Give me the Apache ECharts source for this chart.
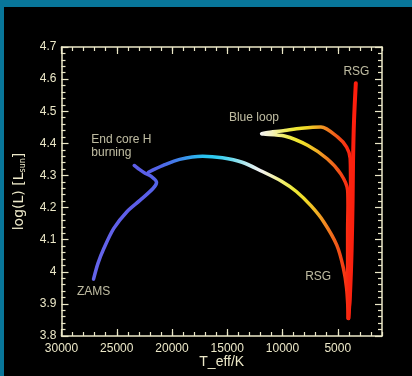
<!DOCTYPE html>
<html>
<head>
<meta charset="utf-8">
<script src="https://cdn.jsdelivr.net/npm/echarts@6/dist/echarts.min.js"></script>
<style>
  html, body { margin: 0; padding: 0; background: #08769a; width: 412px; height: 376px; overflow: hidden; }
  #chart { position: absolute; left: 4px; top: 7px; width: 408px; height: 369px; background: #000; }
</style>
</head>
<body>
<div id="chart"></div>
<script>
// main sequence + hook (T_eff in K, log L)
var msT = [27100, 26700, 26160, 25270, 24080, 22880, 21700, 21400, 21875, 22440, 23040, 23420];
var msL = [3.977, 4.026, 4.073, 4.135, 4.187, 4.223, 4.260, 4.279, 4.297, 4.307, 4.321, 4.331];
// crossing of the gap down to the base of the red branch
var gapT = [22140, 20800, 19310, 17230, 15450, 13660, 11875, 10090, 8750, 7410, 6280, 5090, 4490, 4200, 4040];
var gapL = [4.310, 4.331, 4.350, 4.360, 4.355, 4.341, 4.313, 4.282, 4.250, 4.205, 4.156, 4.083, 4.011, 3.948, 3.855];
// blue loop
var loopT = [4040, 4110, 4110, 4080, 4110, 4730, 5960, 7740, 9820, 11900, 9800, 8300, 6520, 5000, 4200, 3880, 3840, 3790, 3840, 3930, 4040];
var loopL = [3.855, 4.004, 4.129, 4.207, 4.254, 4.305, 4.352, 4.394, 4.423, 4.430, 4.440, 4.447, 4.451, 4.419, 4.388, 4.353, 4.275, 4.160, 4.035, 3.911, 3.855];
// red supergiant ascent
var rsgT = [4040, 3880, 3750, 3660, 3620, 3530, 3370];
var rsgL = [3.855, 3.942, 4.067, 4.222, 4.347, 4.472, 4.587];

var labelText = ['ZAMS', 'End core H\nburning', 'Blue loop', 'RSG', 'RSG'];
var labelT = [28600, 27300, 14850, 4490, 7950];
var labelL = [3.939, 4.390, 4.480, 4.624, 3.985];

// x ticks every 1000 K, labelled every 5000 K
var xMajorTicks = [30000, 25000, 20000, 15000, 10000, 5000];
var xTicks = [];
for (var t = 30000; t >= 1000; t -= 1000) xTicks.push(String(t));

// temperature colours, 3000 K .. 28000 K in 1000 K steps
var tempColors = ['#ff180a', '#fa2410', '#f05418', '#f08020', '#f0b424', '#f0dc28', '#ece838', '#f0ee70',
  '#f4f2c0', '#f2f2f2', '#c8ecf0', '#90e0ec', '#54d4ee', '#30ccf0', '#28c4f0', '#30acee', '#3a8eea',
  '#4676e8', '#5066e8', '#5860e8', '#5c5ee8', '#5e5ee8', '#6060e8', '#6262ea', '#6464ea', '#6464ea'];

function pairs(a, b) {
  return a.map(function (v, i) { return [v, b[i]]; });
}
function isMajor(i, v) {
  return xMajorTicks.indexOf(+v) >= 0;
}

var fg = '#ece8c8';
var font = 'Liberation Sans';

function tickAxis(pos, len, major, showLine) {
  return {
    type: 'category', position: pos, data: xTicks, boundaryGap: false,
    axisLine: { show: showLine, lineStyle: { color: fg, width: 1.5 } },
    axisTick: { show: true, inside: true, length: len, interval: major ? isMajor : 0, lineStyle: { color: fg, width: 1.2 } },
    axisLabel: { show: major && pos === 'bottom', interval: isMajor, color: fg, fontSize: 12, fontFamily: font, margin: 7 },
    splitLine: { show: false }
  };
}

function yAxisCfg(pos, labels) {
  var ax = {
    type: 'value', position: pos, min: 3.8, max: 4.7, interval: 0.1,
    axisLine: { show: true, lineStyle: { color: fg, width: 1.5 } },
    axisTick: { show: true, inside: true, length: 7, lineStyle: { color: fg, width: 1.2 } },
    minorTick: { show: true, splitNumber: 5, length: 4, lineStyle: { color: fg, width: 1.2 } },
    axisLabel: { show: labels, color: fg, fontSize: 12, fontFamily: font, margin: 5 },
    splitLine: { show: false }
  };
  if (labels) {
    ax.name = '{n|log(L) [L}{s|sun}{n|]}';
    ax.nameLocation = 'middle';
    ax.nameGap = 35;
    ax.nameTextStyle = {
      color: fg, fontFamily: 'DejaVu Sans',
      rich: {
        n: { color: fg, fontSize: 14, fontFamily: 'DejaVu Sans' },
        s: { color: fg, fontSize: 8, fontFamily: 'DejaVu Sans', padding: [7, 0, 0, 0] }
      }
    };
  }
  return ax;
}

function track(name, data, w) {
  return {
    name: name, type: 'line', data: data, showSymbol: false, smooth: 0.3,
    lineStyle: { width: w, cap: 'round', join: 'round' }
  };
}

var chart = echarts.init(document.getElementById('chart'));
chart.setOption({
  animation: false,
  backgroundColor: '#000',
  grid: { left: 53, top: 40, right: 30, bottom: 40 },
  xAxis: [
    {
      type: 'value', position: 'bottom', min: 1000, max: 30000, inverse: true,
      axisLine: { show: true, lineStyle: { color: fg, width: 1.5 } },
      axisTick: { show: false }, axisLabel: { show: false }, splitLine: { show: false },
      name: 'T_eff/K', nameLocation: 'middle', nameGap: 19,
      nameTextStyle: { color: fg, fontSize: 14, fontFamily: font }
    },
    tickAxis('bottom', 7, true, false),
    tickAxis('bottom', 4, false, false),
    tickAxis('top', 7, true, true),
    tickAxis('top', 4, false, false)
  ],
  yAxis: [
    yAxisCfg('left', true),
    yAxisCfg('right', false)
  ],
  visualMap: {
    type: 'continuous', show: false, dimension: 0, seriesIndex: [0, 1, 2, 3],
    min: 3000, max: 28000,
    inRange: { color: tempColors }
  },
  series: [
    track('ms', pairs(msT, msL), 3.5),
    track('gap', pairs(gapT, gapL), 3.5),
    track('loop', pairs(loopT, loopL), 3.5),
    track('rsg', pairs(rsgT, rsgL), 4),
    {
      type: 'scatter', symbolSize: 0, z: 5,
      data: labelT.map(function (v, i) { return [v, labelL[i], labelText[i]]; }),
      label: {
        show: true, position: 'right', distance: 0, align: 'left',
        color: fg, fontSize: 12, fontFamily: font, lineHeight: 13,
        formatter: function (p) { return p.data[2]; }
      }
    }
  ]
});
</script>
</body>
</html>
